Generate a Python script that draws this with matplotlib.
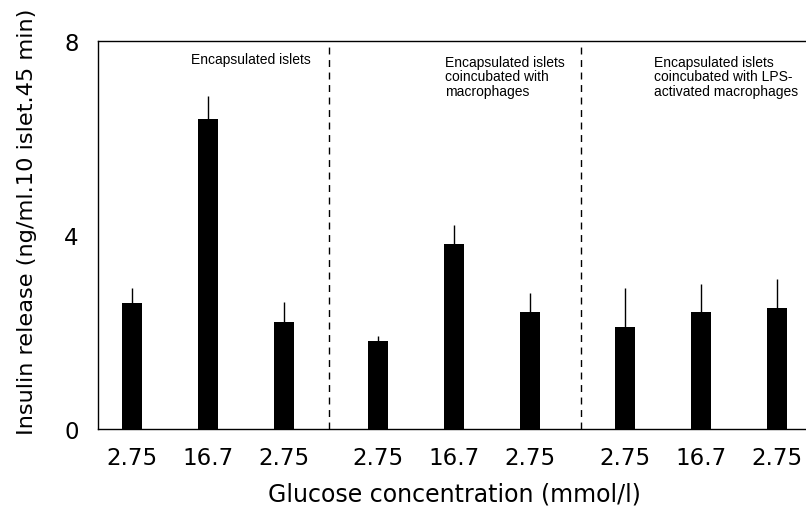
import matplotlib
matplotlib.use("Agg")
import matplotlib.pyplot as plt
import numpy as np

plt.rcParams['font.family'] = ['DejaVu Sans']

# Data
tick_labels = ["2.75", "16.7", "2.75", "2.75", "16.7", "2.75", "2.75", "16.7", "2.75"]
positions = [0, 1, 2, 3.24, 4.24, 5.24, 6.49, 7.49, 8.49]
values = [2.60, 6.39, 2.21, 1.81, 3.81, 2.41, 2.11, 2.41, 2.49]
errors = [0.30, 0.48, 0.40, 0.10, 0.39, 0.39, 0.79, 0.59, 0.60]
group_labels = ["Encapsulated islets",
                "Encapsulated islets\ncoincubated with\nmacrophages",
                "Encapsulated islets\ncoincubated with LPS-\nactivated macrophages"]
dividers = [2.59, 5.91]

fig = plt.figure(figsize=(8.06, 5.10), dpi=100)
ax = fig.add_axes([98/806, 80/510, 1.005 - 98/806, 388/510])

ax.bar(positions, values, width=0.26, color='black', zorder=2)
ax.errorbar(positions, values, yerr=[np.zeros(len(errors)), errors], fmt='none',
            ecolor='black', elinewidth=1.0, capsize=0, zorder=1)

for d in dividers:
    ax.axvline(d, color='black', lw=1.0, ls=(0, (5, 4)), zorder=0)

ax.set_xlim(-0.447, 8.869 + 0.06)
ax.set_ylim(0, 8)
ax.set_yticks([0, 4, 8])
ax.set_xticks(positions)
ax.set_xticklabels(tick_labels)
ax.tick_params(axis='y', length=0, pad=14, labelsize=16.5)
ax.tick_params(axis='x', length=0, pad=12, labelsize=16.5)
for s in ax.spines.values():
    s.set_linewidth(1.0)

ax.set_xlabel("Glucose concentration (mmol/l)", fontsize=17, labelpad=9)
fig.text(27/806, 1 - 222/510, "Insulin release (ng/ml.10 islet.45 min)",
         rotation=90, ha='center', va='center', fontsize=16.2)

# group annotations (data coordinates)
ann_font = ['Liberation Sans', 'DejaVu Sans']
ax.text(1.57, 7.63, group_labels[0], fontsize=10, ha='center', va='center', family=ann_font)
ax.text(4.12, 7.72, group_labels[1], fontsize=10, ha='left', va='top', linespacing=1.05, family=ann_font)
ax.text(6.88, 7.72, group_labels[2], fontsize=10, ha='left', va='top', linespacing=1.05, family=ann_font)

fig.savefig("out.png", dpi=100)
